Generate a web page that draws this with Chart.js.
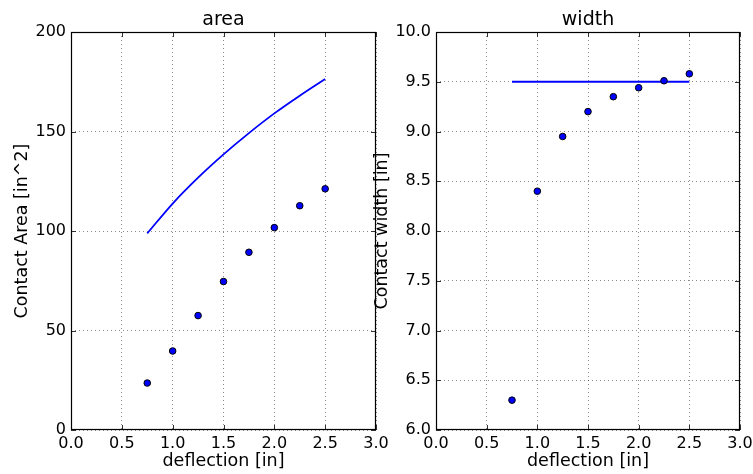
<!DOCTYPE html>
<html>
<head>
<meta charset="utf-8">
<script src="https://cdn.jsdelivr.net/npm/chart.js@4/dist/chart.umd.min.js"></script>
<style>
  html, body { margin: 0; padding: 0; background: #ffffff; }
  #wrap { position: relative; width: 753px; height: 474px; overflow: hidden; background: #ffffff; }
  canvas { position: absolute; top: 0; }
  #c1 { left: 0px; }
  #c2 { left: 360px; }
</style>
</head>
<body>
<div id="wrap">
  <canvas id="c1" width="753" height="474"></canvas>
  <canvas id="c2" width="400" height="474"></canvas>
</div>
<script>
// ---- data ----
const deflection = [0.75, 1.0, 1.25, 1.5, 1.75, 2.0, 2.25, 2.5];
const areaMeasured = [23.6, 39.7, 57.5, 74.6, 89.3, 101.7, 112.7, 121.2];
const areaModel = [98.8, 113.8, 126.8, 138.5, 149.2, 159.1, 168.0, 176.4];
const widthMeasured = [6.30, 8.40, 8.95, 9.20, 9.35, 9.44, 9.51, 9.58];
const widthModel = [9.5, 9.5, 9.5, 9.5, 9.5, 9.5, 9.5, 9.5];

const titles = ['area', 'width'];
const xLabel = 'deflection [in]';
const yLabels = ['Contact Area [in^2]', 'Contact width [in]'];
const xRange = [0, 3.0];
const xStep = 0.5;
const areaRange = [0, 200];
const areaStep = 50;
const widthRange = [6.0, 10.0];
const widthStep = 0.5;

const FONT = "'DejaVu Sans', 'Liberation Sans', sans-serif";

function pts(xs, ys) { return xs.map((x, i) => ({x: x, y: ys[i]})); }

const frameTicks = {
  id: 'frameTicks',
  afterDraw(chart) {
    const ctx = chart.ctx;
    const {left, right, top, bottom} = chart.chartArea;
    const xs = chart.scales.x, ys = chart.scales.y;
    const L = 5;
    ctx.save();
    ctx.strokeStyle = '#333333';
    ctx.lineWidth = 1;
    ctx.beginPath();
    xs.ticks.forEach(t => {
      const p = Math.round(xs.getPixelForValue(t.value)) + 0.5;
      ctx.moveTo(p, bottom); ctx.lineTo(p, bottom - L);
      ctx.moveTo(p, top); ctx.lineTo(p, top + L);
    });
    ys.ticks.forEach(t => {
      const p = Math.round(ys.getPixelForValue(t.value)) + 0.5;
      ctx.moveTo(left, p); ctx.lineTo(left + L, p);
      ctx.moveTo(right, p); ctx.lineTo(right - L, p);
    });
    ctx.stroke();
    ctx.strokeStyle = '#000000';
    ctx.lineWidth = 1.2;
    ctx.strokeRect(Math.round(left) + 0.5, Math.round(top) + 0.5, Math.round(right - left) - 1, Math.round(bottom - top) - 1);
    ctx.restore();
  }
};

function makeChart(canvasId, cfg) {
  return new Chart(document.getElementById(canvasId), {
    type: 'scatter',
    data: {
      datasets: [
        {
          data: pts(deflection, cfg.model),
          showLine: true,
          borderColor: '#0000ff',
          borderWidth: 1.8,
          pointRadius: 0,
          pointHoverRadius: 0,
          fill: false,
          cubicInterpolationMode: 'monotone',
          order: 2
        },
        {
          data: pts(deflection, cfg.measured),
          showLine: false,
          backgroundColor: '#0000ff',
          borderColor: '#000000',
          borderWidth: 1,
          pointRadius: 3.3,
          order: 1
        }
      ]
    },
    options: {
      responsive: false,
      animation: false,
      devicePixelRatio: 1,
      layout: { padding: cfg.padding },
      plugins: {
        legend: { display: false },
        tooltip: { enabled: false },
        title: {
          display: true,
          text: cfg.title,
          fullSize: false,
          color: '#000000',
          font: { family: FONT, size: 19, weight: 'normal' },
          padding: { top: 9, bottom: 0.2 }
        }
      },
      scales: {
        x: {
          type: 'linear',
          min: xRange[0], max: xRange[1],
          afterFit(s) { s.height = 44; },
          ticks: {
            stepSize: xStep,
            color: '#000000',
            padding: 4.5,
            maxRotation: 0,
            autoSkip: false,
            font: { family: FONT, size: 16 },
            callback: v => Number(v).toFixed(1)
          },
          grid: { color: 'rgba(0,0,0,0.45)', lineWidth: 1, drawTicks: false },
          border: { display: false, dash: [1, 3] },
          title: {
            display: true, text: xLabel, color: '#000000',
            font: { family: FONT, size: 17.5 },
            padding: { top: 0, bottom: 2 }
          }
        },
        y: {
          type: 'linear',
          min: cfg.yRange[0], max: cfg.yRange[1],
          afterFit(s) { s.width = cfg.yWidth; },
          ticks: {
            stepSize: cfg.yStep,
            color: '#000000',
            padding: 5,
            autoSkip: false,
            font: { family: FONT, size: 16 },
            callback: cfg.yFmt
          },
          grid: { color: 'rgba(0,0,0,0.45)', lineWidth: 1, drawTicks: false },
          border: { display: false, dash: [1, 3] },
          title: {
            display: true, text: cfg.yLabel, color: '#000000',
            font: { family: FONT, size: 17.5 },
            padding: { top: 12, bottom: 0 }
          }
        }
      }
    },
    plugins: [frameTicks]
  });
}

makeChart('c1', {
  title: titles[0], measured: areaMeasured, model: areaModel,
  yRange: areaRange, yStep: areaStep, yLabel: yLabels[0],
  yFmt: v => String(Math.round(v)),
  yWidth: 71,
  padding: { left: 0, right: 377, top: 0, bottom: 0 }
});

makeChart('c2', {
  title: titles[1], measured: widthMeasured, model: widthModel,
  yRange: widthRange, yStep: widthStep, yLabel: yLabels[1],
  yFmt: v => Number(v).toFixed(1),
  yWidth: 76,
  padding: { left: 0, right: 20, top: 0, bottom: 0 }
});
</script>
</body>
</html>
